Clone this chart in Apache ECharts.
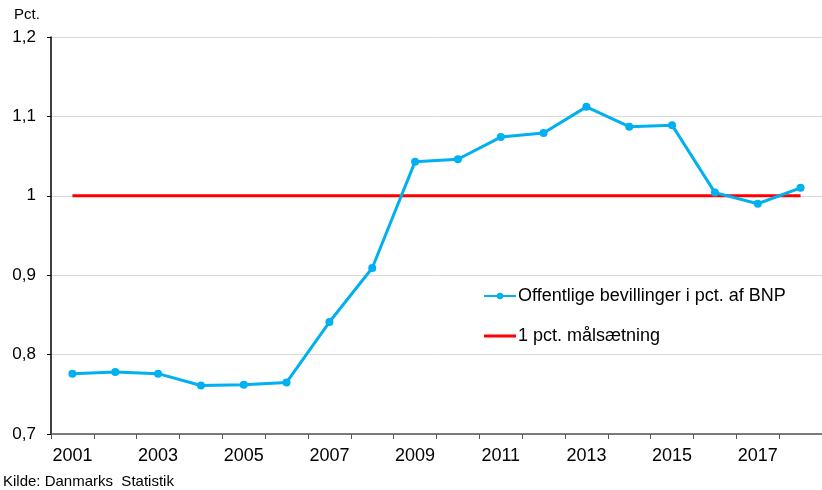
<!DOCTYPE html>
<html>
<head>
<meta charset="utf-8">
<script src="https://cdn.jsdelivr.net/npm/echarts@6/dist/echarts.min.js"></script>
<style>
  html, body { margin: 0; padding: 0; background: #fff; }
  #chart { width: 822px; height: 490px; }
</style>
</head>
<body>
<div id="chart"></div>
<script>
// data
var years = ['2001','2002','2003','2004','2005','2006','2007','2008','2009',
             '2010','2011','2012','2013','2014','2015','2016','2017','2018'];
var bevillinger = [0.776, 0.778, 0.776, 0.761, 0.762, 0.765, 0.841, 0.909, 1.043,
                   1.046, 1.074, 1.079, 1.112, 1.087, 1.089, 1.004, 0.990, 1.010];
var maal = [1, 1, 1, 1, 1, 1, 1, 1, 1, 1, 1, 1, 1, 1, 1, 1, 1, 1];
var yTicks = [0.7, 0.8, 0.9, 1, 1.1, 1.2];

var font = '"Liberation Sans", Arial, sans-serif';

var myChart = echarts.init(document.getElementById('chart'));

var option = {
    animation: false,
    textStyle: { fontFamily: font },
    grid: { left: 51, right: 0, top: 37, bottom: 56, containLabel: false },
    graphic: [
        { type: 'text', left: 14, top: 7,
          style: { text: 'Pct.', font: '15px ' + font, fill: '#000' } },
        { type: 'text', left: 3, top: 474,
          style: { text: 'Kilde: Danmarks  Statistik', font: '15px ' + font, fill: '#000' } }
    ],
    legend: {
        orient: 'vertical',
        left: 483,
        top: 287,
        padding: 0,
        itemWidth: 32,
        itemHeight: 8,
        itemGap: 22,
        textStyle: { fontSize: 18, color: '#000', fontFamily: font, padding: [0, 0, 0, -3] },
        data: [
            { name: 'Offentlige bevillinger i pct. af BNP' },
            { name: '1 pct. målsætning', icon: 'path://M0,0 L32,0 L32,3 L0,3 Z' }
        ]
    },
    xAxis: {
        type: 'category',
        data: years,
        boundaryGap: true,
        axisLine: { lineStyle: { color: '#555', width: 1.5 } },
        axisTick: { show: true, interval: 0, length: 5, lineStyle: { color: '#555' } },
        axisLabel: {
            interval: 1,
            margin: 13,
            fontSize: 18,
            color: '#000',
            fontFamily: font
        },
        splitLine: { show: false }
    },
    yAxis: {
        type: 'value',
        min: 0.7,
        max: 1.2,
        interval: 0.1,
        axisLine: { show: true, lineStyle: { color: '#000', width: 1.5 } },
        axisTick: { show: true, length: 4, lineStyle: { color: '#000' } },
        axisLabel: {
            margin: 15,
            fontSize: 17,
            color: '#000',
            fontFamily: font,
            formatter: function (v) {
                var t = yTicks.find(function (k) { return Math.abs(k - v) < 1e-6; });
                if (t === undefined) return '';
                return String(t).replace('.', ',');
            }
        },
        splitLine: { show: true, lineStyle: { color: '#d9d9d9', width: 1 } }
    },
    series: [
        {
            name: 'Offentlige bevillinger i pct. af BNP',
            type: 'line',
            data: bevillinger,
            z: 3,
            symbol: 'circle',
            symbolSize: 8,
            itemStyle: { color: '#00b0f0' },
            lineStyle: { color: '#00b0f0', width: 3 }
        },
        {
            name: '1 pct. målsætning',
            type: 'line',
            data: maal,
            z: 2,
            symbol: 'none',
            itemStyle: { color: '#ff0000' },
            lineStyle: { color: '#ff0000', width: 3 }
        }
    ]
};

myChart.setOption(option);
</script>
</body>
</html>
